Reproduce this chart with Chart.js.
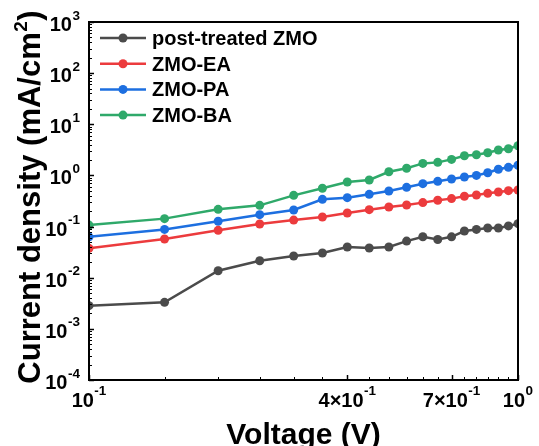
<!DOCTYPE html>
<html>
<head>
<meta charset="utf-8">
<script src="https://cdn.jsdelivr.net/npm/chart.js@4.4.1/dist/chart.umd.min.js"></script>
<style>
  html, body { margin: 0; padding: 0; background: #fff; }
  #wrap { width: 539px; height: 446px; position: relative; }
</style>
</head>
<body>
<div id="wrap"><canvas id="jv"></canvas></div>
<script>
// Applied voltage (V)
const voltage = [0.1, 0.15, 0.2, 0.25, 0.3, 0.35, 0.4, 0.45, 0.5, 0.55, 0.6, 0.65, 0.7, 0.75, 0.8, 0.85, 0.9, 0.95, 1.0];

// Current density (mA/cm^2) for each film
const postTreatedZMO = [0.00284, 0.0033, 0.0137, 0.0215, 0.0266, 0.0304, 0.0398, 0.0381, 0.0398, 0.052, 0.0634, 0.056, 0.063, 0.0818, 0.088, 0.094, 0.094, 0.103, 0.114];
const zmoEA = [0.0375, 0.057, 0.0845, 0.112, 0.134, 0.154, 0.184, 0.214, 0.241, 0.264, 0.294, 0.327, 0.352, 0.391, 0.414, 0.447, 0.474, 0.503, 0.52];
const zmoPA = [0.063, 0.088, 0.127, 0.171, 0.211, 0.341, 0.367, 0.427, 0.496, 0.585, 0.69, 0.766, 0.851, 0.93, 1.0, 1.13, 1.32, 1.44, 1.58];
const zmoBA = [0.107, 0.143, 0.217, 0.26, 0.408, 0.56, 0.743, 0.813, 1.18, 1.38, 1.72, 1.8, 2.06, 2.43, 2.54, 2.78, 3.14, 3.33, 3.81];

const seriesNames = ['post-treated ZMO', 'ZMO-EA', 'ZMO-PA', 'ZMO-BA'];
const seriesColors = ['#4b4b4b', '#ec3b3d', '#1d6fe0', '#2fa96a'];

// Axis ticks and their labels (base and exponent drawn separately)
const yTickValues = [1e3, 1e2, 1e1, 1e0, 1e-1, 1e-2, 1e-3, 1e-4];
const yTickExponents = ['3', '2', '1', '0', '-1', '-2', '-3', '-4'];
const yMinorFactors = [2, 3, 4, 5, 6, 7, 8, 9];
const xTickValues = [0.1, 0.4, 0.7, 1.0];
const xTickBases = ['10', '4×10', '7×10', '10'];
const xTickExponents = ['-1', '-1', '-1', '0'];
const xMinorTicks = [0.15, 0.2, 0.25, 0.3, 0.35, 0.45, 0.5, 0.55, 0.6, 0.65, 0.75, 0.8, 0.85, 0.9, 0.95];

const xTitle = 'Voltage (V)';
const yTitleParts = ['Current density (mA/cm', '2', ')'];

const FAM = '"Liberation Sans", Arial, Helvetica, sans-serif';

function points(ys) {
  return voltage.map((v, i) => ({ x: v, y: ys[i] }));
}

function drawPower(ctx, base, exp, x, baseline, align) {
  ctx.font = 'bold 20px ' + FAM;
  const wb = ctx.measureText(base).width;
  ctx.font = 'bold 13.5px ' + FAM;
  const we = ctx.measureText(exp).width;
  const total = wb + 0.5 + we;
  const x0 = align === 'right' ? x - total : x - total / 2;
  ctx.textAlign = 'left';
  ctx.textBaseline = 'alphabetic';
  ctx.font = 'bold 20px ' + FAM;
  ctx.fillText(base, x0, baseline);
  ctx.font = 'bold 13.5px ' + FAM;
  ctx.fillText(exp, x0 + wb + 0.5, baseline - 11.5);
}

// Frame, inward ticks, power-of-ten labels, axis titles and legend
const axisDecor = {
  id: 'axisDecor',
  afterDatasetsDraw(chart) {
    const { ctx, chartArea: a, scales: { x, y } } = chart;
    ctx.save();
    ctx.strokeStyle = '#000';
    ctx.fillStyle = '#000';

    // y ticks (major + log minors), drawn inward from the left edge
    ctx.lineWidth = 1.5;
    yTickValues.forEach(v => {
      const py = Math.round(y.getPixelForValue(v)) + 0.5;
      ctx.beginPath(); ctx.moveTo(a.left, py); ctx.lineTo(a.left + 5, py); ctx.stroke();
    });
    ctx.lineWidth = 1;
    yTickValues.slice(1).forEach(v => {
      yMinorFactors.forEach(f => {
        const py = Math.round(y.getPixelForValue(v * f)) + 0.5;
        ctx.beginPath(); ctx.moveTo(a.left, py); ctx.lineTo(a.left + 3, py); ctx.stroke();
      });
    });

    // x ticks, drawn upward from the bottom edge
    ctx.lineWidth = 1.5;
    xTickValues.forEach(v => {
      const px = Math.round(x.getPixelForValue(v)) + 0.5;
      ctx.beginPath(); ctx.moveTo(px, a.bottom); ctx.lineTo(px, a.bottom - 5); ctx.stroke();
    });
    ctx.lineWidth = 1;
    xMinorTicks.forEach(v => {
      const px = Math.round(x.getPixelForValue(v)) + 0.5;
      ctx.beginPath(); ctx.moveTo(px, a.bottom); ctx.lineTo(px, a.bottom - 3); ctx.stroke();
    });

    // frame
    ctx.lineWidth = 2;
    ctx.strokeRect(a.left, a.top, a.right - a.left, a.bottom - a.top);

    // tick labels
    yTickValues.forEach((v, i) => {
      drawPower(ctx, '10', yTickExponents[i], a.left - 9, y.getPixelForValue(v) + 9, 'right');
    });
    xTickValues.forEach((v, i) => {
      drawPower(ctx, xTickBases[i], xTickExponents[i], x.getPixelForValue(v), a.bottom + 26.5, 'center');
    });

    // x title
    ctx.font = 'bold 30px ' + FAM;
    ctx.textAlign = 'center';
    ctx.textBaseline = 'alphabetic';
    ctx.fillText(xTitle, (a.left + a.right) / 2, 444);

    // y title (rotated, with superscript)
    const mainFont = 'bold 31px ' + FAM;
    const supFont = 'bold 19px ' + FAM;
    ctx.font = mainFont; const w0 = ctx.measureText(yTitleParts[0]).width;
    ctx.font = supFont; const w1 = ctx.measureText(yTitleParts[1]).width;
    ctx.font = mainFont; const w2 = ctx.measureText(yTitleParts[2]).width;
    const total = w0 + w1 + 1 + w2;
    ctx.save();
    ctx.translate(40, 197);
    ctx.rotate(-Math.PI / 2);
    ctx.textAlign = 'left';
    let sx = -total / 2;
    ctx.font = mainFont; ctx.fillText(yTitleParts[0], sx, 0); sx += w0;
    ctx.font = supFont; ctx.fillText(yTitleParts[1], sx + 0.5, -13); sx += w1 + 1;
    ctx.font = mainFont; ctx.fillText(yTitleParts[2], sx, 0);
    ctx.restore();

    // legend
    const lx0 = a.left + 11, lx1 = a.left + 57, rowTop = a.top + 16, rowGap = 25.7;
    chart.data.datasets.forEach((ds, i) => {
      const cy = rowTop + i * rowGap;
      ctx.strokeStyle = ds.borderColor;
      ctx.fillStyle = ds.borderColor;
      ctx.lineWidth = 2.5;
      ctx.beginPath(); ctx.moveTo(lx0, cy); ctx.lineTo(lx1, cy); ctx.stroke();
      ctx.beginPath(); ctx.arc((lx0 + lx1) / 2, cy, 4.5, 0, Math.PI * 2); ctx.fill();
      ctx.fillStyle = '#000';
      ctx.font = 'bold 20px ' + FAM;
      ctx.textAlign = 'left';
      ctx.textBaseline = 'alphabetic';
      ctx.fillText(ds.label, lx1 + 6, cy + 7);
    });
    ctx.restore();
  }
};

const seriesValues = [postTreatedZMO, zmoEA, zmoPA, zmoBA];

new Chart(document.getElementById('jv'), {
  type: 'line',
  data: {
    datasets: seriesValues.map((vals, i) => ({
      label: seriesNames[i],
      data: points(vals),
      borderColor: seriesColors[i],
      backgroundColor: seriesColors[i],
      pointBackgroundColor: seriesColors[i],
      pointBorderWidth: 0,
      pointRadius: 4.5,
      borderWidth: 2.5,
      tension: 0,
      fill: false
    }))
  },
  options: {
    responsive: true,
    maintainAspectRatio: false,
    animation: false,
    devicePixelRatio: 1,
    layout: { padding: { left: 0, top: 22, right: 21, bottom: 0 } },
    plugins: { legend: { display: false }, tooltip: { enabled: false } },
    scales: {
      x: {
        type: 'logarithmic', min: 0.1, max: 1,
        grid: { display: false }, border: { display: false },
        ticks: { display: false },
        afterFit(scale) { scale.height = 66; }
      },
      y: {
        type: 'logarithmic', min: 1e-4, max: 1e3,
        grid: { display: false }, border: { display: false },
        ticks: { display: false },
        afterFit(scale) { scale.width = 89; }
      }
    }
  },
  plugins: [axisDecor]
});
</script>
</body>
</html>
